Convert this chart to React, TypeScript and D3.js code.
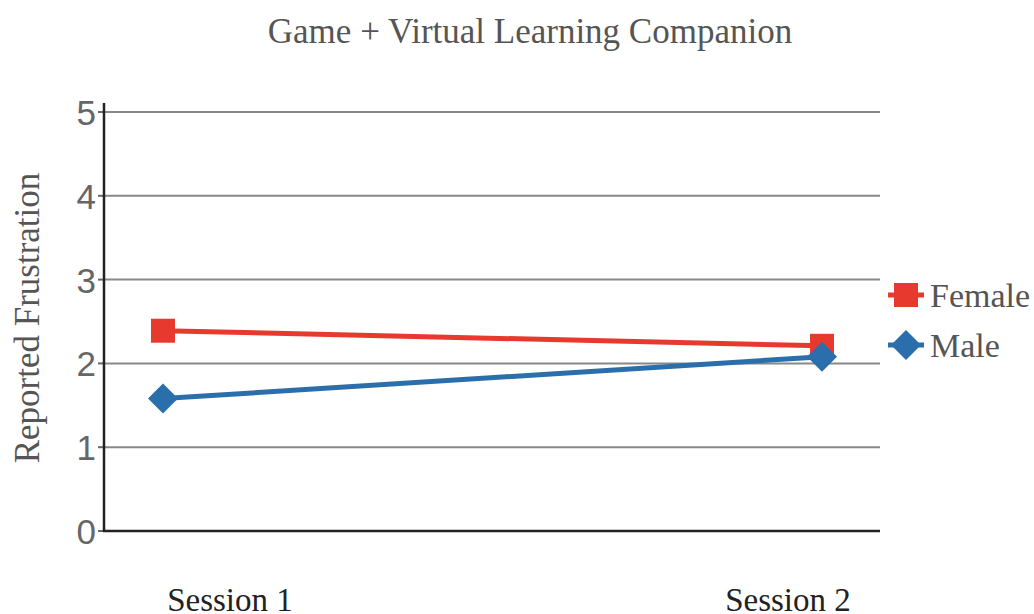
import React from "react";
import * as d3 from "d3";

const sessions = ["Session 1", "Session 2"];
const female = [2.39, 2.21];
const male = [1.58, 2.08];
const yTicks = [0, 1, 2, 3, 4, 5];
const seriesNames = ["Female", "Male"];

const RED = "#e8392f";
const BLUE = "#2a6fab";

export default function App() {
  const W = 1034, H = 614;
  const x = d3.scalePoint<string>().domain(sessions).range([163, 822]);
  const xLabel = d3.scalePoint<string>().domain(sessions).range([230, 788]);
  const y = d3.scaleLinear().domain([0, 5]).range([531, 112]);
  const line = d3.line<number>().x((_, i) => x(sessions[i])!).y((d) => y(d));
  const diamond = (cx: number, cy: number, r: number) =>
    `M${cx},${cy - r}L${cx + r},${cy}L${cx},${cy + r}L${cx - r},${cy}Z`;

  return (
    <svg width={W} height={H} style={{ position: "absolute", left: 0, top: 0, background: "#fff" }}>
      <text x={530} y={43} textAnchor="middle" fontFamily="Liberation Serif" fontSize={35} fill="#555">
        Game + Virtual Learning Companion
      </text>
      {yTicks.map((t) => (
        <g key={t}>
          {t > 0 && <line x1={104} x2={880} y1={y(t)} y2={y(t)} stroke="#888" strokeWidth={2} />}
          <line x1={98} x2={104} y1={y(t)} y2={y(t)} stroke="#666" strokeWidth={2} />
          <text x={96} y={y(t) + 13} textAnchor="end" fontFamily="Liberation Sans" fontSize={35} fill="#666">
            {t}
          </text>
        </g>
      ))}
      <line x1={104} x2={104} y1={103} y2={532} stroke="#222" strokeWidth={2.5} />
      <line x1={103} x2={880} y1={531} y2={531} stroke="#222" strokeWidth={2.5} />
      <text
        transform="translate(39,318) rotate(-90)"
        textAnchor="middle"
        fontFamily="Liberation Serif"
        fontSize={35}
        fill="#555"
      >
        Reported Frustration
      </text>
      {sessions.map((s) => (
        <text key={s} x={xLabel(s)} y={611} textAnchor="middle" fontFamily="Liberation Serif" fontSize={33} fill="#222">
          {s}
        </text>
      ))}
      <path d={line(female)!} fill="none" stroke={RED} strokeWidth={5} />
      <path d={line(male)!} fill="none" stroke={BLUE} strokeWidth={5} />
      {female.map((v, i) => (
        <rect key={i} x={x(sessions[i])! - 12} y={y(v) - 12} width={24} height={24} fill={RED} />
      ))}
      {male.map((v, i) => (
        <path key={i} d={diamond(x(sessions[i])!, y(v), 15)} fill={BLUE} />
      ))}
      {seriesNames.map((n, i) => {
        const ly = 295 + i * 50;
        const c = i === 0 ? RED : BLUE;
        return (
          <g key={n}>
            <line x1={888} x2={924} y1={ly} y2={ly} stroke={c} strokeWidth={5} />
            {i === 0 ? (
              <rect x={894} y={ly - 12} width={24} height={24} fill={c} />
            ) : (
              <path d={diamond(906, ly, 15)} fill={c} />
            )}
            <text x={930} y={ly + 12} fontFamily="Liberation Serif" fontSize={34} fill="#555">
              {n}
            </text>
          </g>
        );
      })}
    </svg>
  );
}
